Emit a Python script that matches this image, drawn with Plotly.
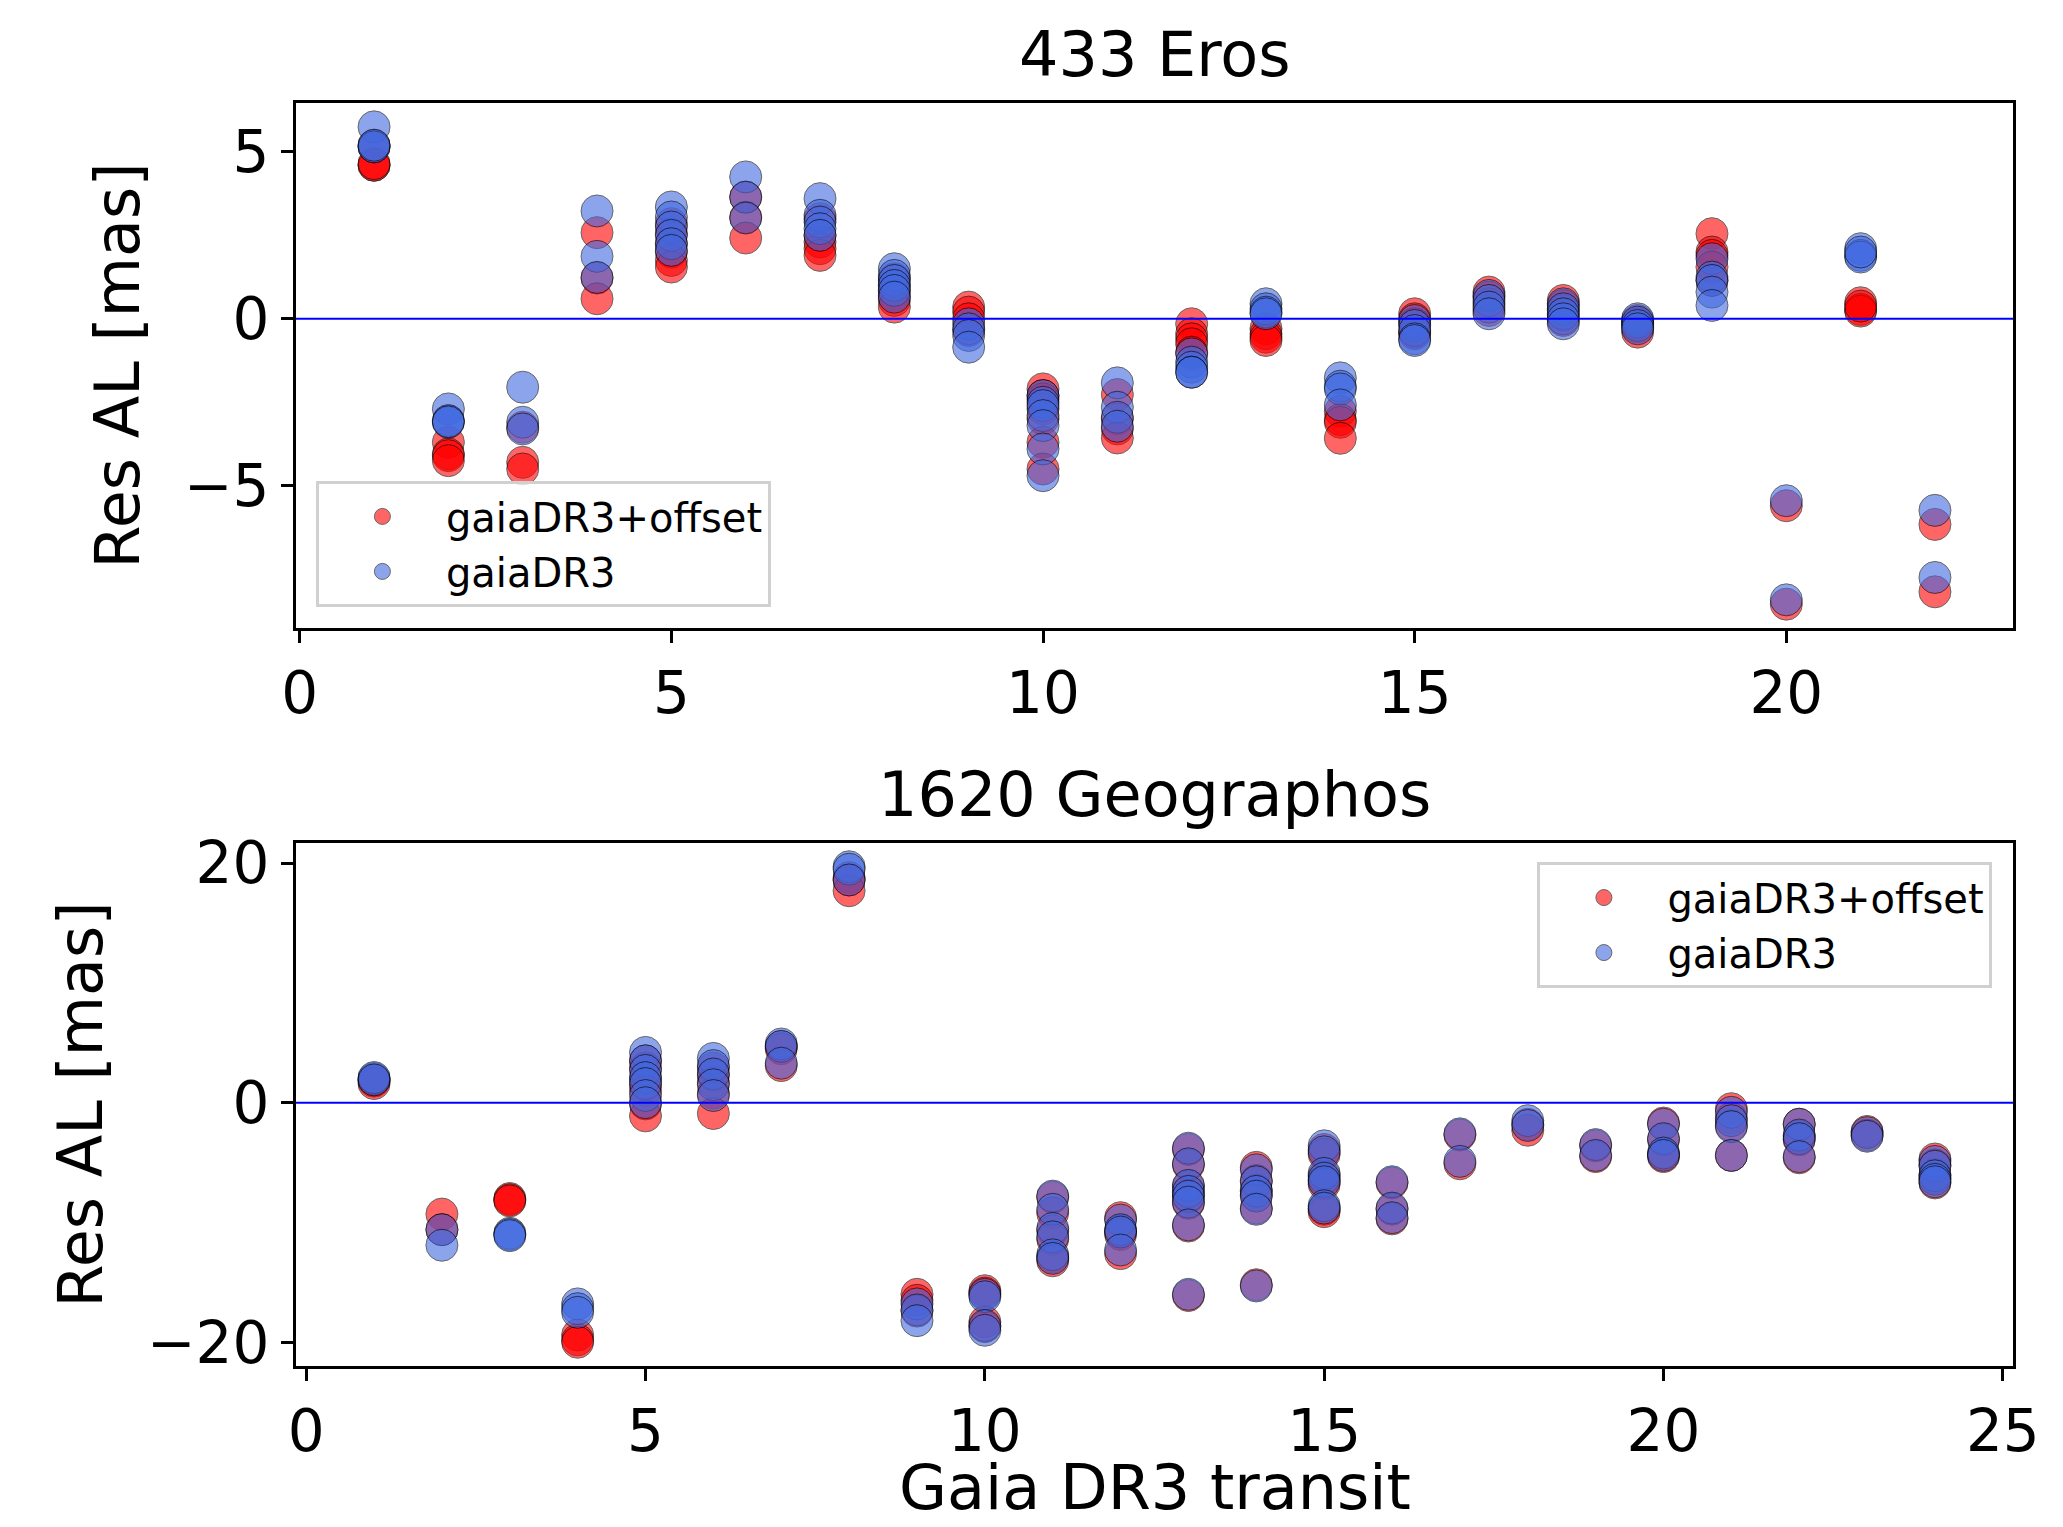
import plotly.graph_objects as go

# ---------------- data ----------------
eros_transit = list(range(1, 23))
eros_dr3 = [
    [5.75, 5.15, 5.15, 5.20],
    [-2.70, -3.05, -3.10, -3.08],
    [-2.05, -3.10, -3.30],
    [3.23, 1.87, 1.24],
    [3.35, 3.05, 2.75, 2.50, 2.25, 2.05],
    [4.25, 3.64, 3.02],
    [3.60, 3.10, 2.90, 2.70, 2.50],
    [1.50, 1.30, 1.15, 1.00, 0.85, 0.65],
    [-0.15, -0.30, -0.50, -0.85],
    [-2.30, -2.50, -2.60, -2.90, -3.20, -3.90, -4.70],
    [-1.92, -2.65, -2.95, -3.22],
    [-1.05, -1.30, -1.45, -1.60, -1.60],
    [0.45, 0.30, 0.20, 0.15],
    [-1.77, -2.02, -2.10, -2.58],
    [-0.05, -0.20, -0.35, -0.60, -0.65],
    [0.70, 0.55, 0.35, 0.15],
    [0.45, 0.30, 0.15, 0.00, -0.15],
    [0.00, -0.10, -0.20, -0.30],
    [1.80, 1.25, 1.15, 0.80, 0.40],
    [-5.45, -8.42],
    [2.10, 1.90, 1.85, 2.00],
    [-5.74, -7.75],
]
eros_offset = [
    [5.20, 4.60, 4.60, 4.65],
    [-3.70, -4.05, -4.10, -4.25],
    [-3.25, -4.30, -4.50],
    [2.58, 1.22, 0.60],
    [2.85, 2.55, 2.25, 2.00, 1.75, 1.55],
    [3.65, 3.04, 2.42],
    [3.00, 2.50, 2.30, 2.10, 1.90],
    [1.20, 1.00, 0.85, 0.70, 0.55, 0.35],
    [0.35, 0.20, 0.00, -0.35],
    [-2.10, -2.30, -2.40, -2.70, -3.00, -3.70, -4.50],
    [-2.27, -3.00, -3.30, -3.57],
    [-0.15, -0.45, -0.60, -0.75, -1.00],
    [-0.30, -0.45, -0.55, -0.65],
    [-2.77, -3.02, -3.10, -3.58],
    [0.15, 0.00, -0.15, -0.40, -0.45],
    [0.80, 0.65, 0.45, 0.25],
    [0.55, 0.40, 0.25, 0.10, -0.05],
    [-0.05, -0.15, -0.25, -0.40],
    [2.55, 2.00, 1.90, 1.55, 1.15],
    [-5.60, -8.55],
    [0.48, 0.28, 0.23, 0.38],
    [-6.16, -8.18],
]

geo_transit = list(range(1, 25))
geo_dr3 = [
    [2.0, 2.1, 1.9],
    [-10.6, -11.9],
    [-10.9, -11.0, -11.1],
    [-16.8, -17.2, -17.5],
    [4.2, 3.5, 2.7, 2.1, 1.6, 0.6, 0.0],
    [3.7, 3.1, 2.4, 1.5, 0.6],
    [4.9, 4.7, 3.3],
    [19.7, 19.5, 18.6],
    [-16.8, -17.3, -18.2],
    [-16.0, -16.2, -18.6, -19.0],
    [-7.8, -8.9, -10.5, -11.2, -12.7, -13.0],
    [-9.8, -10.6, -10.8, -12.3],
    [-3.8, -5.1, -6.9, -7.4, -7.8, -8.3, -10.2, -16.0],
    [-5.6, -6.6, -7.4, -7.8, -8.9, -15.3],
    [-3.6, -4.1, -5.9, -6.3, -6.6, -8.6, -8.8],
    [-6.6, -8.8, -9.6],
    [-2.6, -4.9],
    [-1.5, -1.9],
    [-3.5, -4.4],
    [-1.8, -3.0, -4.2, -4.4],
    [-0.8, -1.5, -2.0, -4.4],
    [-1.8, -2.7, -3.0, -4.5],
    [-2.5, -2.8],
    [-4.9, -5.3, -6.1, -6.4, -6.6],
]
geo_offset = [
    [1.8, 1.9, 1.6],
    [-9.3, -10.6],
    [-8.0, -8.1, -8.2],
    [-19.4, -19.8, -20.0],
    [3.5, 2.9, 2.0, 1.5, 1.0, -0.1, -1.1],
    [2.9, 2.3, 1.7, 0.8, -0.9],
    [4.7, 4.5, 3.1],
    [18.8, 18.6, 17.7],
    [-16.0, -16.5, -17.4],
    [-15.7, -15.9, -18.3, -18.7],
    [-7.9, -9.2, -10.7, -11.4, -12.9, -13.2],
    [-9.6, -10.7, -11.0, -12.6],
    [-3.9, -5.2, -7.0, -7.5, -7.9, -8.4, -10.3, -16.1],
    [-5.4, -6.5, -7.3, -7.7, -8.8, -15.2],
    [-3.9, -4.3, -6.1, -6.5, -6.8, -8.9, -9.1],
    [-6.7, -8.9, -9.7],
    [-2.7, -5.1],
    [-1.8, -2.3],
    [-3.6, -4.5],
    [-1.7, -3.1, -4.3, -4.5],
    [-0.5, -1.3, -1.9, -4.4],
    [-1.8, -2.8, -3.1, -4.6],
    [-2.4, -2.7],
    [-4.7, -5.2, -6.0, -6.3, -6.7],
]

titles = ["433 Eros", "1620 Geographos"]
series_names = ["gaiaDR3+offset", "gaiaDR3"]
ylabel = "Res AL [mas]"
xlabel = "Gaia DR3 transit"


def flatten(transits, groups):
    xs, ys = [], []
    for t, g in zip(transits, groups):
        for v in g:
            xs.append(t)
            ys.append(v)
    return xs, ys


def mpl_range(vals):
    lo, hi = min(vals), max(vals)
    pad = 0.05 * (hi - lo)
    return [lo - pad, hi + pad]


FONT = "DejaVu Sans"
RED = "red"
BLUE = "royalblue"
MS = 32

fig = go.Figure()

panels = [
    (eros_transit, eros_offset, eros_dr3, "x", "y", "legend"),
    (geo_transit, geo_offset, geo_dr3, "x2", "y2", "legend2"),
]
ranges = []
for transits, off, dr3, xa, ya, lg in panels:
    xo, yo = flatten(transits, off)
    xd, yd = flatten(transits, dr3)
    fig.add_trace(go.Scatter(
        x=xo, y=yo, mode="markers", name=series_names[0], xaxis=xa, yaxis=ya, legend=lg,
        marker=dict(size=MS, color=RED, opacity=0.6, line=dict(color="black", width=1)),
    ))
    fig.add_trace(go.Scatter(
        x=xd, y=yd, mode="markers", name=series_names[1], xaxis=xa, yaxis=ya, legend=lg,
        marker=dict(size=MS, color=BLUE, opacity=0.6, line=dict(color="black", width=1)),
    ))
    ranges.append((mpl_range(xo + xd), mpl_range(yo + yd)))

axis_common = dict(
    showline=True, linecolor="black", linewidth=3, mirror=True,
    ticks="outside", ticklen=12, tickwidth=3, tickcolor="black",
    showgrid=False, zeroline=False, automargin=False,
    tickfont=dict(family=FONT, size=58, color="black"),
)

legend_common = dict(
    bgcolor="rgba(255,255,255,0.8)", bordercolor="#d0d0d0", borderwidth=3,
    font=dict(family=FONT, size=40, color="black"), itemsizing="trace", itemwidth=117,
)

# the page body has an 8 px margin, so the figure is 8 px smaller in each direction
fig.update_layout(
    width=2055, height=1519,
    paper_bgcolor="white", plot_bgcolor="white",
    margin=dict(l=288, r=50, t=95, b=161, autoexpand=False),
    font=dict(family=FONT, color="black"),
    xaxis=dict(domain=[0, 1], anchor="y", range=ranges[0][0], dtick=5, tick0=0, **axis_common),
    yaxis=dict(domain=[0.5843, 1], anchor="x", range=ranges[0][1], dtick=5, tick0=0,
               title=dict(text=ylabel, font=dict(family=FONT, size=62), standoff=25), **axis_common),
    xaxis2=dict(domain=[0, 1], anchor="y2", range=ranges[1][0], dtick=5, tick0=0, **axis_common),
    yaxis2=dict(domain=[0, 0.4141], anchor="x2", range=ranges[1][1], dtick=20, tick0=0,
                title=dict(text=ylabel, font=dict(family=FONT, size=62), standoff=25), **axis_common),
    legend=dict(x=0.0116, y=0.601, xanchor="left", yanchor="bottom", **legend_common),
    legend2=dict(x=0.988, y=0.399, xanchor="right", yanchor="top", **legend_common),
    showlegend=True,
)

# zero lines
for xa, ya in (("x", "y"), ("x2", "y2")):
    fig.add_shape(type="line", xref=f"{xa} domain", yref=ya, x0=0, x1=1, y0=0, y1=0,
                  line=dict(color="blue", width=2), layer="above")

# panel titles
fig.add_annotation(text=titles[0], xref="x domain", yref="y domain", x=0.5, y=1,
                   xanchor="center", yanchor="bottom", yshift=10, showarrow=False,
                   font=dict(family=FONT, size=62, color="black"))
fig.add_annotation(text=titles[1], xref="x2 domain", yref="y2 domain", x=0.5, y=1,
                   xanchor="center", yanchor="bottom", yshift=10, showarrow=False,
                   font=dict(family=FONT, size=62, color="black"))

# x-axis title of the lower panel
fig.add_annotation(text=xlabel, xref="x2 domain", yref="y2 domain", x=0.5, y=0,
                   xanchor="center", yanchor="bottom", yshift=-160, showarrow=False,
                   font=dict(family=FONT, size=62, color="black"))

fig.write_html("out.html")
